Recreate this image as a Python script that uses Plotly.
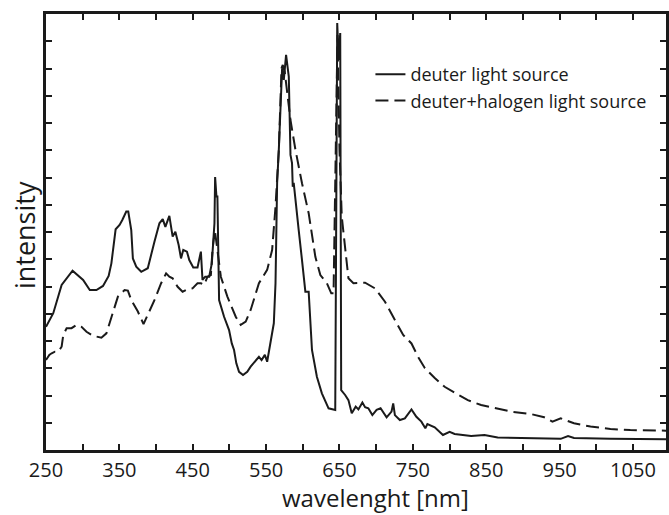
import plotly.graph_objects as go

# deuter light source (solid)
wl_deuter = [250, 259.9, 271.3, 286.2, 300.6, 309.7, 318.7, 327.7, 335.4, 339.1, 344.9, 350.3, 354, 359.4,
             362.1, 366.2, 368.4, 373, 379.8, 388.7, 397.8, 404.6, 409.1, 412.7, 418.1, 422.6, 426.3, 430.8,
             434, 437.1, 442.1, 445.3, 450.7, 456.5, 461.1, 463.3, 467, 472.4, 476, 479.6, 480.5, 482.3,
             483.6, 485, 485.9, 492.7, 499.5, 503.2, 506.3, 509.4, 513.1, 518.5, 524.3, 528.9, 535.7, 540.2,
             543.8, 548.3, 551.4, 560.5, 562.8, 565, 567.3, 571.8, 574.1, 577.2, 580.9, 583.2, 585.3, 586.3,
             587.6, 592.1, 594.4, 598.9, 603.5, 608, 612.5, 619.2, 626, 635.1, 644.2, 646.9, 648.9, 651,
             652.3, 657.7, 662.2, 666.7, 672.1, 675.8, 681.2, 684.9, 689.3, 694.8, 700.6, 706, 714.2, 720.9,
             723.2, 725.5, 732.3, 739.1, 743.6, 748.1, 754.8, 761.6, 767, 769.8, 779.8, 784.3, 791, 800.1,
             806.9, 829.4, 847.6, 865.6, 906.3, 951.5, 961.5, 969.6, 1019.3, 1095]
int_deuter = [4.52, 5.02, 6.06, 6.58, 6.24, 5.87, 5.87, 6.02, 6.39, 6.85, 8.10, 8.26, 8.44, 8.75,
              8.75, 8.07, 7.03, 6.73, 6.54, 6.67, 7.64, 8.32, 8.47, 8.19, 8.59, 7.83, 8.01, 7.52,
              7.03, 7.34, 7.28, 6.97, 6.70, 6.70, 7.28, 6.24, 6.36, 6.36, 6.85, 8.32, 10.02, 9.30,
              9.30, 6.48, 5.50, 4.89, 4.40, 3.91, 3.67, 3.18, 2.87, 2.75, 2.87, 3.06, 3.30, 3.42,
              3.30, 3.49, 3.24, 4.65, 6.12, 9.79, 11.01, 14.01, 13.58, 14.50, 13.70, 10.83, 10.53, 9.66,
              9.80, 8.56, 8.07, 6.97, 5.81, 5.81, 3.67, 2.69, 2.08, 1.53, 1.47, 15.67, 14.31, 15.30,
              2.20, 2.02, 1.83, 1.35, 1.59, 1.49, 1.74, 1.57, 1.53, 1.28, 1.47, 1.53, 1.20, 1.41,
              1.71, 1.28, 1.10, 1.16, 1.35, 1.49, 1.22, 1.04, 0.80, 0.95, 0.83, 0.73, 0.55, 0.67,
              0.59, 0.51, 0.55, 0.46, 0.44, 0.41, 0.51, 0.44, 0.41, 0.39]

# deuter + halogen light source (dashed)
wl_halogen = [250, 254.5, 257.7, 262.2, 266.7, 271.3, 273.5, 278.1, 284.8, 291.6, 298.4, 305.2, 314.1,
              325.5, 332.3, 339.1, 348, 357.1, 361.6, 366.2, 375.2, 382.9, 388.7, 397.8, 406.9, 413.7,
              418.1, 422.6, 429.4, 436.2, 443, 449.7, 456.5, 461.1, 465.6, 470.1, 474.7, 476.9, 480.1,
              482.3, 488.3, 497.2, 508.6, 515.4, 522.2, 528.9, 540.2, 551.4, 558.2, 562.8, 567.3, 571,
              572.7, 575.4, 583.2, 590, 598.9, 608, 612.5, 617.1, 623.9, 632.8, 638.8, 641.9, 647.3,
              650, 653.1, 657.7, 662.2, 669, 684.9, 698.4, 712, 725.5, 736.8, 748.1, 757.1, 766.2,
              779.8, 793.3, 806.9, 824.9, 843, 865.6, 883.7, 910.8, 929, 940.2, 951.5, 969.6, 992.1,
              1019.3, 1046.4, 1095]
int_halogen = [3.30, 3.49, 3.55, 3.61, 3.61, 3.79, 4.22, 4.47, 4.47, 4.59, 4.52, 4.34, 4.19,
               4.12, 4.28, 4.89, 5.63, 5.87, 5.85, 5.50, 5.08, 4.62, 4.95, 5.50, 6.12, 6.48,
               6.36, 6.30, 5.99, 5.81, 5.90, 5.93, 6.12, 6.12, 6.06, 6.36, 6.42, 7.34, 8.07,
               7.59, 6.36, 5.63, 4.89, 4.59, 4.71, 5.14, 6.12, 6.61, 7.34, 8.93, 11.01, 14.01,
               14.13, 13.87, 12.11, 11.01, 9.79, 8.69, 7.95, 7.09, 6.42, 6.12, 5.75, 5.75, 15.23,
               11.01, 8.56, 7.34, 6.30, 6.12, 6.14, 5.93, 5.44, 4.77, 4.22, 3.91, 3.42, 3.01,
               2.64, 2.32, 2.10, 1.83, 1.65, 1.52, 1.41, 1.32, 1.20, 1.04, 1.16, 0.98, 0.86,
               0.77, 0.73, 0.71]

x_tickvals = [250, 350, 450, 550, 650, 750, 850, 950, 1050]
x_ticktext = ["250", "350", "450", "550", "650", "750", "850", "950", "1050"]

FONT = "Open Sans"
INK = "#1a1a1a"

fig = go.Figure()
fig.add_trace(go.Scatter(x=wl_halogen, y=int_halogen, mode="lines", name="deuter+halogen light source",
                         line=dict(color=INK, width=2, dash="13px,6px"), legendrank=2))
fig.add_trace(go.Scatter(x=wl_deuter, y=int_deuter, mode="lines", name="deuter light source",
                         line=dict(color=INK, width=2), legendrank=1))

fig.update_layout(
    width=669, height=515,
    margin=dict(l=46, r=0, t=14, b=65),
    paper_bgcolor="white", plot_bgcolor="white",
    font=dict(family=FONT, color=INK),
    showlegend=True,
    legend=dict(x=(372 - 46) / 623, xanchor="left", y=(450 - 56) / 436, yanchor="top",
                bgcolor="white", borderwidth=0, font=dict(size=18, family=FONT, color=INK),
                traceorder="normal"),
    xaxis=dict(range=[250, 1095], tickmode="array", tickvals=x_tickvals, ticktext=x_ticktext,
               ticks="inside", ticklen=6, tickwidth=1.5, tickcolor=INK,
               minor=dict(dtick=50, tick0=250, ticks="inside", ticklen=6, tickwidth=1.5, tickcolor=INK),
               showline=True, linecolor=INK, linewidth=2.5, mirror="ticks",
               showgrid=False, zeroline=False, tickfont=dict(size=20, family=FONT, color=INK),
               ticklabelstandoff=0),
    yaxis=dict(range=[0, 16], dtick=1, tick0=0, ticks="inside", ticklen=6, tickwidth=1.5, tickcolor=INK,
               showticklabels=False, showline=True, linecolor=INK, linewidth=2.5, mirror="ticks",
               showgrid=False, zeroline=False),
    annotations=[
        dict(text="wavelenght [nm]", xref="paper", yref="paper", x=(377 - 46) / 623, y=(450 - 515) / 436,
             xanchor="center", yanchor="bottom", showarrow=False, borderpad=0,
             font=dict(size=24, family=FONT, color=INK)),
        dict(text="intensity", xref="paper", yref="paper", x=(24 - 46) / 623, y=(450 - 235) / 436,
             xanchor="center", yanchor="middle", textangle=-90, showarrow=False, borderpad=0,
             font=dict(size=27, family=FONT, color=INK)),
    ],
)

fig.write_html("out.html")
